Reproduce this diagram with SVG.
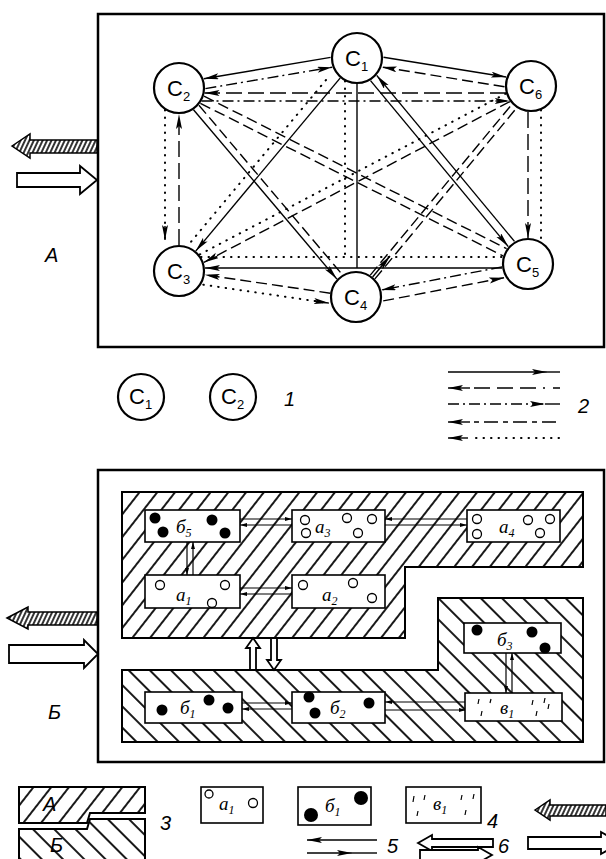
<svg xmlns="http://www.w3.org/2000/svg" width="606" height="859" viewBox="0 0 606 859">
<defs>
<marker id="ar" markerUnits="userSpaceOnUse" markerWidth="16" markerHeight="8" refX="15" refY="3" orient="auto"><path d="M0,0 L15,3 L0,6 L3,3 Z" fill="#000"/></marker>
<marker id="sm" markerUnits="userSpaceOnUse" markerWidth="8" markerHeight="5" refX="7" refY="2" orient="auto"><path d="M0,0 L7,2 L0,4 Z" fill="#000"/></marker>
<pattern id="hA" patternUnits="userSpaceOnUse" width="14" height="14" patternTransform="rotate(38)"><rect width="14" height="14" fill="#fff"/><line x1="7" y1="0" x2="7" y2="14" stroke="#000" stroke-width="1.8"/></pattern>
<pattern id="hB" patternUnits="userSpaceOnUse" width="15" height="15" patternTransform="rotate(-45)"><rect width="15" height="15" fill="#fff"/><line x1="7" y1="0" x2="7" y2="15" stroke="#000" stroke-width="1.8"/></pattern>
<pattern id="hs" patternUnits="userSpaceOnUse" width="4" height="4" patternTransform="rotate(25)"><rect width="4" height="4" fill="#fff"/><line x1="2" y1="0" x2="2" y2="4" stroke="#000" stroke-width="1.6"/></pattern>
</defs>
<style>
.fr{fill:none;stroke:#000;stroke-width:2.5}
.nd{fill:#fff;stroke:#000;stroke-width:2.2}
.cl{font-family:"Liberation Sans",Arial,sans-serif;font-size:22px;fill:#000}
.sub{font-size:13px}
.s{fill:none;stroke:#000;stroke-width:1.4}
.d{stroke-dasharray:11 5}
.ld{stroke-dasharray:16 6}
.dd{stroke-dasharray:11 4 2 4}
.dt{fill:none;stroke:#000;stroke-width:2;stroke-linecap:round;stroke-dasharray:0.5 7}
.bx{fill:#fff;stroke:#000;stroke-width:1.6}
.oc{fill:#fff;stroke:#000;stroke-width:1.3}
.bl{fill:#000}
.bt{font-family:"Liberation Serif","Times New Roman",serif;font-style:italic;font-size:19px;fill:#000}
.bs{font-size:12px}
.lb{font-family:"Liberation Sans",Arial,sans-serif;font-style:italic;font-size:20px;fill:#000}
.ha{fill:url(#hs);stroke:#000;stroke-width:1.5}
.wa{fill:#fff;stroke:#000;stroke-width:1.8}
.ch{fill:none;stroke:#000;stroke-width:1.2}
</style>

<!-- Part A -->
<rect class="fr" x="98" y="14" width="506" height="333"/>
<g id="io-a">
<polygon class="ha" points="12,146 30,134 30,140 97,140 97,153 30,153 30,158"/>
<polygon class="wa" points="17,173 80,173 80,166 97,180 80,194 80,187 17,187"/>
</g>
<text class="lb" x="45" y="262">А</text>

<g id="connectors-a">
<path class="s" d="M330.6,57.4 L203.8,78.8" marker-end="url(#ar)"/>
<path class="s dd" d="M205.4,88.6 L332.2,67.2" marker-end="url(#ar)"/>
<path class="s" d="M383.5,57.2 L506.1,77" marker-end="url(#ar)"/>
<path class="s d" d="M504.5,86.8 L381.9,67" marker-end="url(#ar)"/>
<path class="s ld" d="M506,93 L204.5,93" marker-end="url(#ar)"/>
<path class="s dd" d="M201.5,101 L509.8,101" marker-end="url(#ar)"/>
<path class="s ld" d="M179,245 L179,114" marker-end="url(#ar)"/>
<path class="dt" d="M165,110 L165,240"/>
<path class="s" d="M165,226 L165,240" marker-end="url(#ar)"/>
<path class="s ld" d="M528,112 L528,238" marker-end="url(#ar)"/>
<path class="dt" d="M541,110 L541,240"/>
<path class="s" d="M357,84 L357,268"/>
<path class="dt" d="M345,81 L345,257"/>
<path class="s" d="M502,268 L205,268" marker-end="url(#ar)"/>
<path class="dt" d="M201,257 L503,257"/>
<path class="s" d="M340.3,77.9 L195.7,251.1" marker-end="url(#ar)"/>
<path class="dt" d="M326,80 L190,243"/>
<path class="dt" d="M505.7,93.7 L199.7,254.5"/>
<path class="s d" d="M509.9,101.6 L203.9,262.4" marker-end="url(#ar)"/>
<path class="s" d="M193.5,109.7 L336.9,279.1" marker-end="url(#ar)"/>
<path class="s d" d="M198.9,105.2 L342.3,274.6"/>
<path class="s d" d="M200.4,103.3 L503,255.9"/>
<path class="s d" d="M204,96.1 L506.6,248.7"/>
<path class="s" d="M514.5,241.4 L376.7,75.4" marker-end="url(#ar)"/>
<path class="s" d="M370.5,80.6 L508.3,246.6" marker-end="url(#ar)"/>
<path class="s d" d="M374.9,278.9 L516.7,107.9"/>
<path class="s d" d="M370.3,275.1 L512.1,104.1"/>
<path class="s" d="M372.6,277 L390,256" marker-end="url(#ar)"/>
<path class="s d" d="M330.3,293.2 L204.7,274.8" marker-end="url(#ar)"/>
<path class="dt" d="M203.3,284.7 L328.9,303.1"/>
<path class="s" d="M314,301 L328.9,303.1" marker-end="url(#ar)"/>
<path class="s dd" d="M502.1,266.9 L381.1,290.1" marker-end="url(#ar)"/>
<path class="s d" d="M383.2,300.9 L504.2,277.7" marker-end="url(#ar)"/>
</g>

<g id="C1"><circle class="nd" cx="357" cy="58" r="25"/><text class="cl" x="345" y="66">C<tspan class="sub" dy="5">1</tspan></text></g>
<g id="C2"><circle class="nd" cx="179" cy="88" r="25"/><text class="cl" x="167" y="96">C<tspan class="sub" dy="5">2</tspan></text></g>
<g id="C6"><circle class="nd" cx="531" cy="86" r="25"/><text class="cl" x="519" y="94">C<tspan class="sub" dy="5">6</tspan></text></g>
<g id="C3"><circle class="nd" cx="179" cy="271" r="25"/><text class="cl" x="167" y="279">C<tspan class="sub" dy="5">3</tspan></text></g>
<g id="C4"><circle class="nd" cx="356" cy="297" r="25"/><text class="cl" x="344" y="305">C<tspan class="sub" dy="5">4</tspan></text></g>
<g id="C5"><circle class="nd" cx="528" cy="264" r="25"/><text class="cl" x="516" y="272">C<tspan class="sub" dy="5">5</tspan></text></g>

<g id="legend-1">
<circle class="nd" cx="141" cy="397" r="23"/><text class="cl" x="129" y="404">C<tspan class="sub" dy="5">1</tspan></text>
<circle class="nd" cx="233" cy="397" r="23"/><text class="cl" x="221" y="404">C<tspan class="sub" dy="5">2</tspan></text>
<text class="lb" x="284" y="406">1</text>
</g>
<g id="legend-2">
<path class="s" d="M448,372 L547,372" marker-end="url(#ar)"/><path class="s" d="M547,372 L560,372"/>
<path class="s" d="M470,388 L448,388" marker-end="url(#ar)"/><path class="s" d="M474,388 L560,388" stroke-dasharray="16 7 16 7 16 7 2 8"/>
<path class="s dd" d="M448,404 L545,404" marker-end="url(#ar)"/><path class="s" d="M545,404 L560,404"/>
<path class="s" d="M470,422 L448,422" marker-end="url(#ar)"/><path class="s" d="M474,422 L560,422" stroke-dasharray="5 5 14 5"/>
<path class="s" d="M468,438 L448,438" marker-end="url(#ar)"/><path class="dt" d="M476,438 L560,438"/>
<text class="lb" x="578" y="413">2</text>
</g>

<!-- Part B -->
<rect class="fr" x="98" y="470" width="506" height="292"/>
<g id="io-b">
<polygon class="ha" points="7,618 28,607 28,612 97,612 97,625 28,625 28,629"/>
<polygon class="wa" points="9,645 84,645 84,640 98,654 84,668 84,663 9,663"/>
</g>
<text class="lb" x="48" y="719">Б</text>

<g id="region-A"><polygon points="122,492 583,492 583,567 405,567 405,638 122,638" fill="url(#hA)" stroke="#000" stroke-width="2"/></g>
<g id="region-B"><polygon points="122,670 438,670 438,598 583,598 583,742 122,742" fill="url(#hB)" stroke="#000" stroke-width="2"/></g>

<g id="connectors-b">
<path class="ch" d="M240,519 L292,519" marker-end="url(#sm)"/>
<path class="ch" d="M292,525 L240,525" marker-end="url(#sm)"/>
<path class="ch" d="M467,519 L385,519" marker-end="url(#sm)"/>
<path class="ch" d="M385,525 L467,525" marker-end="url(#sm)"/>
<path class="ch" d="M187,542 L187,575" marker-end="url(#sm)"/>
<path class="ch" d="M193,575 L193,542" marker-end="url(#sm)"/>
<path class="ch" d="M240,588 L292,588" marker-end="url(#sm)"/>
<path class="ch" d="M292,594 L240,594" marker-end="url(#sm)"/>
<path class="ch" d="M242,703 L292,703" marker-end="url(#sm)"/>
<path class="ch" d="M292,709 L242,709" marker-end="url(#sm)"/>
<path class="ch" d="M466,702 L385,702" marker-end="url(#sm)"/>
<path class="ch" d="M385,710 L466,710" marker-end="url(#sm)"/>
<path class="ch" d="M506,653 L506,693" marker-end="url(#sm)"/>
<path class="ch" d="M512,693 L512,653" marker-end="url(#sm)"/>
<polygon class="wa" points="250,670 250,648 246,648 253,638 260,648 256,648 256,670" stroke-width="1.4"/>
<polygon class="wa" points="271,638 271,660 267,660 274,670 281,660 277,660 277,638" stroke-width="1.4"/>
</g>

<g id="b5"><rect class="bx" x="145" y="510" width="95" height="32"/>
<circle class="bl" cx="155" cy="518" r="5.5"/><circle class="bl" cx="163" cy="532" r="5.5"/><circle class="bl" cx="212" cy="520" r="5.5"/><circle class="bl" cx="225" cy="533" r="5.5"/>
<text class="bt" x="176" y="533">б<tspan class="bs" dy="4">5</tspan></text></g>
<g id="a3"><rect class="bx" x="292" y="510" width="93" height="32"/>
<circle class="oc" cx="305" cy="520" r="4.5"/><circle class="oc" cx="306" cy="533" r="4.5"/><circle class="oc" cx="347" cy="518" r="4.5"/><circle class="oc" cx="358" cy="533" r="4.5"/><circle class="oc" cx="372" cy="519" r="4.5"/>
<text class="bt" x="315" y="533">a<tspan class="bs" dy="4">3</tspan></text></g>
<g id="a4"><rect class="bx" x="467" y="510" width="93" height="32"/>
<circle class="oc" cx="477" cy="519" r="4.5"/><circle class="oc" cx="477" cy="534" r="4.5"/><circle class="oc" cx="528" cy="520" r="4.5"/><circle class="oc" cx="540" cy="533" r="4.5"/><circle class="oc" cx="550" cy="519" r="4.5"/>
<text class="bt" x="499" y="533">a<tspan class="bs" dy="4">4</tspan></text></g>
<g id="a1"><rect class="bx" x="145" y="575" width="95" height="33"/>
<circle class="oc" cx="160" cy="585" r="4.5"/><circle class="oc" cx="225" cy="585" r="4.5"/><circle class="oc" cx="212" cy="603" r="4.5"/>
<text class="bt" x="176" y="601">a<tspan class="bs" dy="4">1</tspan></text></g>
<g id="a2"><rect class="bx" x="292" y="575" width="93" height="33"/>
<circle class="oc" cx="303" cy="585" r="4.5"/><circle class="oc" cx="353" cy="583" r="4.5"/><circle class="oc" cx="372" cy="598" r="4.5"/>
<text class="bt" x="322" y="601">a<tspan class="bs" dy="4">2</tspan></text></g>
<g id="b3"><rect class="bx" x="464" y="623" width="97" height="30"/>
<circle class="bl" cx="477" cy="630" r="5.5"/><circle class="bl" cx="532" cy="632" r="5.5"/><circle class="bl" cx="545" cy="648" r="5.5"/>
<text class="bt" x="497" y="646">б<tspan class="bs" dy="4">3</tspan></text></g>
<g id="b1"><rect class="bx" x="145" y="692" width="97" height="31"/>
<circle class="bl" cx="162" cy="710" r="5.5"/><circle class="bl" cx="209" cy="700" r="5.5"/><circle class="bl" cx="228" cy="708" r="5.5"/>
<text class="bt" x="180" y="714">б<tspan class="bs" dy="4">1</tspan></text></g>
<g id="b2"><rect class="bx" x="292" y="692" width="93" height="31"/>
<circle class="bl" cx="309" cy="697" r="5.5"/><circle class="bl" cx="315" cy="713" r="5.5"/><circle class="bl" cx="369" cy="703" r="5.5"/>
<text class="bt" x="330" y="714">б<tspan class="bs" dy="4">2</tspan></text></g>
<g id="v1"><rect class="bx" x="465" y="693" width="97" height="28"/>
<path class="ch" d="M479,699 L478,704 M482,711 L481,716 M491,699 L490,703 M533,700 L532,705 M537,711 L536,716 M545,698 L544,703 M549,704 L548,709"/>
<text class="bt" x="500" y="714">в<tspan class="bs" dy="4">1</tspan></text></g>

<g id="legend-3">
<polygon points="19,787 145,787 145,813 90,813 87,823 19,823" fill="url(#hA)" stroke="#000" stroke-width="2"/>
<polygon points="19,829 87,829 90,819 145,819 145,870 19,870" fill="url(#hB)" stroke="#000" stroke-width="2"/>
<text class="lb" x="43" y="811">А</text>
<text class="lb" x="50" y="852">Б</text>
<text class="lb" x="160" y="830" font-style="normal">3</text>
</g>
<g id="legend-4">
<rect class="bx" x="201" y="787" width="62" height="36"/>
<circle class="oc" cx="209" cy="794" r="4"/><circle class="oc" cx="253" cy="803" r="4.5"/>
<text class="bt" x="219" y="810">a<tspan class="bs" dy="4">1</tspan></text>
<rect class="bx" x="298" y="787" width="73" height="38"/>
<circle class="bl" cx="311" cy="815" r="7"/><circle class="bl" cx="361" cy="798" r="7"/>
<text class="bt" x="325" y="812">б<tspan class="bs" dy="4">1</tspan></text>
<rect class="bx" x="406" y="787" width="75" height="36"/>
<path class="ch" d="M414,796 L413,802 M418,811 L417,816 M425,795 L424,800 M462,795 L461,800 M466,810 L465,815 M474,794 L473,799"/>
<text class="bt" x="433" y="810">в<tspan class="bs" dy="4">1</tspan></text>
<text class="lb" x="487" y="828">4</text>
</g>
<g id="legend-5">
<path class="s" d="M377,840 L307,840" marker-end="url(#ar)" stroke-width="2"/>
<path class="s" d="M307,853 L352,853" marker-end="url(#ar)" stroke-width="2"/><path class="s" d="M352,853 L377,853" stroke-width="2"/>
<text class="lb" x="387" y="853" font-style="normal" font-size="16">5</text>
</g>
<g id="legend-6">
<polygon class="wa" points="418,843 432,835 432,839 493,839 493,847 432,847 432,851" stroke-width="1.5"/>
<polygon class="wa" points="420,850 478,850 478,847 492,855 478,863 478,860 420,860" stroke-width="1.5"/>
<text class="lb" x="498" y="853" font-size="16">6</text>
</g>
<g id="legend-io">
<polygon class="ha" points="535,810 550,800 550,805 606,805 606,816 550,816 550,820"/>
<polygon class="wa" points="528,837 601,837 601,832 620,843 601,854 601,849 528,849"/>
</g>
</svg>
